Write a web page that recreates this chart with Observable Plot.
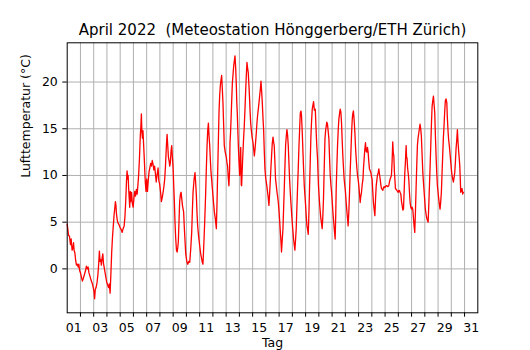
<!DOCTYPE html>
<html><head><meta charset="utf-8">
<script src="https://cdn.jsdelivr.net/npm/d3@7"></script>
<script src="https://cdn.jsdelivr.net/npm/@observablehq/plot@0.6"></script>
<style>body{margin:0;background:#fff}</style>
</head><body><div id="chart"></div>
<script>
const title = "April 2022\u00a0\u00a0(Meteostation Hönggerberg/ETH Zürich)";
const xLabel = "Tag";
const yLabel = "Lufttemperatur (°C)";
const dayTicks = [2,3,4,5,6,7,8,9,10,11,12,13,14,15,16,17,18,19,20,21,22,23,24,25,26,27,28,29,30,31];
const labelDays = [1,3,5,7,9,11,13,15,17,19,21,23,25,27,29,31];
const dayLabels = ["01","03","05","07","09","11","13","15","17","19","21","23","25","27","29","31"];
const yTicks = [0,5,10,15,20];

// fractional day of month (1.0 = 1 April 00:00)
const day = [
1.00,1.05,1.10,1.17,1.25,1.30,1.37,1.42,1.48,1.52,1.58,1.64,1.70,1.77,1.83,1.88,1.94,
2.00,2.08,2.15,2.22,2.30,2.38,2.45,2.52,2.58,2.64,2.72,2.80,2.88,2.95,
3.02,3.07,3.12,3.18,3.25,3.32,3.38,3.43,3.48,3.53,3.58,3.64,3.69,3.74,3.80,3.86,3.92,3.98,
4.05,4.12,4.18,4.24,4.30,4.36,4.42,4.48,4.54,4.60,4.64,4.68,4.72,4.78,4.84,4.92,
5.00,5.08,5.15,5.22,5.30,5.36,5.42,5.48,5.52,5.56,5.60,5.64,5.68,5.72,5.76,5.80,5.86,5.92,5.98,
6.04,6.10,6.16,6.22,6.28,6.34,6.40,6.46,6.52,6.56,6.60,6.64,6.68,6.72,6.76,6.82,6.86,6.90,6.95,
7.00,7.06,7.12,7.18,7.24,7.30,7.36,7.42,7.48,7.54,7.60,7.66,7.72,7.78,7.86,7.92,7.98,
8.05,8.11,8.17,8.24,8.30,8.36,8.42,8.49,8.54,8.59,8.64,8.69,8.74,8.79,8.84,8.89,8.94,8.99,
9.04,9.09,9.14,9.19,9.25,9.30,9.35,9.39,9.44,9.49,9.55,9.60,9.65,9.70,9.75,9.79,9.85,9.90,9.95,
10.00,10.05,10.10,10.18,10.25,10.32,10.40,10.45,10.50,10.58,10.65,10.70,10.75,10.80,10.85,10.92,
11.00,11.08,11.15,11.20,11.25,11.32,11.38,11.45,11.50,11.56,11.61,11.66,11.71,11.76,11.81,11.86,11.91,11.96,
12.04,12.11,12.18,12.26,12.31,12.36,12.41,12.46,12.51,12.56,12.61,12.66,12.71,12.76,12.81,12.86,12.93,
13.01,13.06,13.11,13.16,13.21,13.26,13.29,13.33,13.37,13.42,13.47,13.52,13.57,13.62,13.67,13.72,13.77,13.80,13.84,13.88,13.92,13.97,
14.02,14.07,14.10,14.14,14.17,14.22,14.27,14.32,14.37,14.42,14.47,14.52,14.57,14.62,14.67,14.72,14.77,14.81,14.85,14.89,14.92,14.97,
15.03,15.08,15.13,15.18,15.22,15.28,15.33,15.38,15.43,15.48,15.53,15.58,15.63,15.68,15.73,15.78,15.83,15.88,15.93,15.98,
16.03,16.08,16.13,16.18,16.23,16.28,16.33,16.38,16.43,16.48,16.54,16.58,16.63,16.68,16.73,16.78,16.84,16.89,16.94,16.98,
17.03,17.08,17.14,17.18,17.23,17.29,17.34,17.39,17.44,17.49,17.54,17.59,17.64,17.69,17.74,17.79,17.84,17.89,17.94,17.99,
18.04,18.09,18.14,18.19,18.24,18.29,18.34,18.39,18.45,18.50,18.55,18.60,18.65,18.69,18.75,18.80,18.85,18.90,18.95,
19.00,19.05,19.10,19.15,19.20,19.25,19.30,19.35,19.40,19.45,19.50,19.55,19.60,19.66,19.73,19.80,19.85,19.90,19.97,
20.05,20.10,20.15,20.20,20.25,20.30,20.35,20.40,20.46,20.51,20.56,20.60,20.65,20.70,20.76,20.81,20.86,20.91,20.96,
21.01,21.06,21.11,21.16,21.23,21.27,21.31,21.36,21.41,21.46,21.51,21.56,21.61,21.66,21.71,21.76,21.81,21.86,21.91,21.96,
22.01,22.07,22.12,22.17,22.21,22.26,22.31,22.36,22.42,22.47,22.52,22.56,22.61,22.66,22.72,22.77,22.82,22.87,22.92,22.97,
23.02,23.07,23.12,23.17,23.22,23.27,23.33,23.37,23.42,23.47,23.52,23.57,23.62,23.67,23.72,23.77,23.82,23.88,23.93,23.98,
24.02,24.07,24.12,24.18,24.23,24.28,24.33,24.38,24.42,24.48,24.53,24.58,24.63,24.68,24.73,24.78,24.83,24.88,24.93,24.98,
25.03,25.08,25.13,25.20,25.28,25.33,25.38,25.43,25.48,25.53,25.58,25.62,25.66,25.70,25.74,25.78,25.84,25.89,25.94,25.99,
26.04,26.08,26.13,26.19,26.24,26.29,26.34,26.39,26.44,26.49,26.54,26.59,26.62,26.66,26.70,26.74,26.79,26.84,26.89,26.94,26.99,
27.04,27.09,27.14,27.19,27.24,27.29,27.34,27.39,27.44,27.49,27.55,27.60,27.64,27.69,27.74,27.80,27.85,27.90,27.95,
28.00,28.04,28.10,28.15,28.20,28.25,28.30,28.35,28.40,28.45,28.50,28.55,28.60,28.65,28.70,28.75,28.80,28.85,28.90,28.95,
29.00,29.05,29.10,29.15,29.20,29.25,29.30,29.36,29.40,29.45,29.50,29.55,29.60,29.66,29.70,29.76,29.80,29.85,29.90,29.96,
30.01,30.06,30.11,30.16,30.21,30.26,30.31,30.36,30.41,30.46,30.51,30.56,30.60,30.64,30.68,30.71,30.76,30.81,30.86,30.91
];
// air temperature (°C)
const temp = [
4.8,4.2,3.6,3.5,2.6,3.2,2.0,2.2,2.8,2.0,1.7,0.9,0.4,0.5,0.2,0.5,-0.2,
-0.4,-0.9,-1.3,-1.0,-0.6,-0.2,0.3,0.0,0.2,-0.4,-0.8,-1.2,-1.5,-1.9,
-2.4,-3.2,-2.2,-2.0,-1.5,-0.6,0.6,1.9,0.8,1.0,0.4,1.2,1.6,0.6,0.1,-0.4,-0.9,-1.4,
-1.7,-2.0,-1.6,-2.6,-0.5,1.8,3.4,4.6,5.8,6.6,7.2,6.8,5.9,5.2,4.9,4.7,
4.4,4.2,3.9,4.3,4.6,5.6,7.3,9.5,10.5,9.6,10.0,8.6,7.6,6.6,8.3,7.2,8.2,7.0,6.6,
7.6,8.3,7.8,8.5,8.0,9.0,10.2,12.0,14.3,15.2,16.6,14.6,14.0,14.8,13.6,11.8,10.4,9.2,8.3,
9.6,8.3,9.5,10.4,10.8,11.3,11.0,11.6,11.2,10.6,11.0,10.2,9.3,10.0,10.8,9.4,9.1,
8.2,7.2,7.6,8.2,8.8,9.6,11.0,13.2,14.4,13.2,12.0,11.6,11.0,11.4,12.6,13.2,12.0,11.0,
9.0,7.2,5.0,3.3,2.0,1.8,2.3,2.9,5.0,7.2,8.0,8.2,7.5,6.8,6.4,6.1,4.2,2.9,1.6,
1.1,0.7,0.5,0.8,0.7,2.0,3.9,6.2,8.2,9.6,10.3,9.2,7.9,6.0,4.6,3.5,
2.5,1.6,1.1,0.7,0.5,2.8,5.0,7.9,10.5,13.2,14.8,15.6,14.2,13.2,11.6,10.3,9.5,8.6,
7.2,6.1,5.4,4.3,7.0,10.3,13.5,16.7,18.5,19.6,20.2,20.7,19.3,17.8,15.5,13.2,12.5,
12.0,11.4,11.0,9.8,8.9,10.5,13.5,14.5,16.0,18.0,19.9,20.8,21.7,22.3,22.8,21.5,19.6,18.0,16.7,15.0,13.2,11.5,
10.0,11.8,13.0,9.0,8.9,10.8,12.5,14.0,15.3,17.0,18.9,20.6,22.1,21.5,21.0,19.7,18.2,16.8,15.7,15.0,14.6,14.0,
13.5,12.8,12.1,12.8,13.5,14.6,15.7,16.5,17.1,17.8,18.5,19.2,20.1,19.0,17.8,16.2,14.9,12.6,10.7,9.8,
9.3,8.8,8.2,7.6,6.8,8.0,9.3,10.8,12.1,13.4,14.1,13.6,13.2,11.5,9.6,9.0,8.2,7.7,7.1,6.4,
5.4,4.2,2.9,1.8,3.0,4.3,6.5,8.6,11.0,13.2,14.2,14.9,14.3,13.2,11.4,9.6,8.3,7.1,6.0,5.0,
4.1,3.2,2.6,2.0,3.1,4.3,6.5,8.6,11.0,13.2,15.0,16.7,16.9,16.4,14.5,12.5,10.6,8.9,7.8,
6.8,5.6,4.6,4.2,3.7,6.0,8.9,11.5,14.2,15.8,17.1,17.5,17.9,17.0,17.1,14.6,13.0,11.8,8.9,
7.1,6.2,5.4,4.9,4.3,5.6,7.5,10.5,13.9,14.8,15.3,15.7,15.5,14.8,13.9,11.8,10.0,9.0,8.2,
7.2,6.1,5.2,4.3,3.2,5.5,8.6,11.0,13.2,14.8,16.0,16.6,17.1,16.8,15.7,13.8,12.1,10.8,9.6,8.9,
8.2,7.0,6.1,5.3,4.6,6.0,7.9,10.2,12.5,14.5,16.0,16.6,16.9,16.0,14.6,13.0,11.8,10.8,10.0,9.5,
8.9,8.0,7.1,7.8,8.2,9.0,9.6,10.8,11.8,12.8,13.5,12.6,12.5,13.0,12.5,11.5,10.7,10.5,10.3,9.8,
9.6,8.3,7.1,6.3,5.7,7.5,8.9,9.5,10.0,10.3,10.7,10.1,9.6,9.0,8.6,8.5,8.4,8.7,8.8,8.7,
8.8,8.9,8.9,8.8,8.9,9.3,9.6,9.8,10.0,11.5,13.6,12.4,12.1,10.5,9.6,8.6,8.5,8.4,8.3,8.2,
8.4,8.4,8.2,8.0,7.2,6.8,6.3,6.4,8.3,10.3,11.6,13.2,12.0,11.8,10.8,10.3,9.6,8.2,7.1,6.6,6.4,
6.6,6.4,5.5,4.6,3.9,6.0,8.6,11.0,13.2,14.0,14.6,15.1,15.5,15.0,14.2,12.0,10.3,9.2,8.2,
7.2,6.4,5.8,5.4,5.2,5.0,6.8,8.9,11.0,13.2,15.5,17.4,18.0,18.5,17.6,16.7,14.2,12.1,10.3,8.9,
8.2,7.5,6.9,6.4,7.2,8.2,10.2,12.5,14.0,15.3,16.8,18.0,18.2,17.8,16.2,14.6,13.8,13.2,12.4,11.4,
10.6,9.96,9.6,9.3,9.8,10.3,11.5,12.9,13.8,14.9,13.5,12.5,11.8,11.0,9.5,8.2,8.4,8.6,8.0,8.2
];

const labelPos = labelDays.map(d => d + 0.5);
const grid = {stroke: "#b0b0b0", strokeOpacity: 1, strokeWidth: 1};

const chart = Plot.plot({
  width: 530,
  height: 350,
  marginLeft: 66.7,
  marginRight: 52.7,
  marginTop: 42.3,
  marginBottom: 37.7,
  style: {fontFamily: "DejaVu Sans", fontSize: "12.5px", background: "white", color: "black"},
  x: {domain: [1, 32]},
  y: {domain: [-4.7, 24.2]},
  marks: [
    Plot.gridX(dayTicks, grid),
    Plot.gridY(yTicks, grid),
    Plot.line(temp, {x: day, y: temp, stroke: "red", strokeWidth: 1.3}),
    Plot.frame({stroke: "black", strokeWidth: 1}),
    Plot.axisX(dayTicks, {tickSize: 4.4, tickFormat: () => "", label: null}),
    Plot.axisX(labelPos, {tickSize: 0, tickPadding: 10.5, label: null,
      tickFormat: d => dayLabels[labelPos.indexOf(d)]}),
    Plot.axisY(yTicks, {tickSize: 4.4, tickPadding: 5, label: null}),
    Plot.text([title], {frameAnchor: "top", lineAnchor: "bottom", dy: -7.9, fontSize: 15}),
    Plot.text([xLabel], {frameAnchor: "bottom", lineAnchor: "bottom", dy: 34.2}),
    Plot.text([yLabel], {frameAnchor: "left", dx: -41.4, rotate: -90})
  ]
});
document.getElementById("chart").appendChild(chart);
</script>
</body></html>
